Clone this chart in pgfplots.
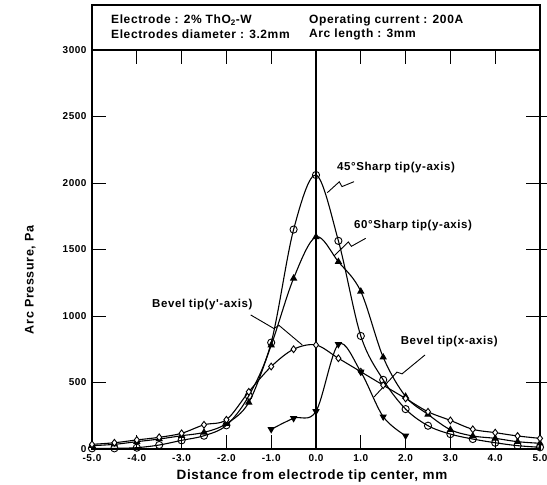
\documentclass[border=0pt]{standalone}
\usepackage{fontspec}
\setmainfont{Liberation Sans}
\newfontfamily\lsfont{Liberation Sans}[LetterSpace=5]
\usepackage{pgfplots}
\pgfplotsset{compat=1.18}
\begin{document}
\begin{tikzpicture}
\useasboundingbox (-92pt,-36pt) rectangle (455pt,449pt);
\begin{axis}[
  at={(0pt,0pt)}, anchor=south west,
  scale only axis, width=448pt, height=399pt,
  xmin=-5, xmax=5, ymin=0, ymax=3000,
  clip=false,
  xtick={-5,-4,...,5},
  xticklabels={-5.0,-4.0,-3.0,-2.0,-1.0,0.0,1.0,2.0,3.0,4.0,5.0},
  ytick={0,500,...,3000},
  yticklabels={0,500,1000,1500,2000,2500,3000},
  tick align=inside,
  major tick length=14pt,
  tick style={line width=1pt, black},
  axis line style={line width=1.1pt},
  /pgf/number format/assume math mode=true,
  ticklabel style={font=\lsfont\fontsize{10}{12}\selectfont\bfseries},
  xticklabel style={yshift=-2pt},
  yticklabel style={xshift=-2pt},
]
% 45 deg sharp tip (y-axis)
\addplot[black, line width=1.1pt, smooth, tension=0.55, mark=o, mark size=3.6pt, mark options={fill=white, line width=0.9pt}] coordinates {
(-5,5) (-4.5,5) (-4,10) (-3.5,30) (-3,65) (-2.5,100) (-2,178) (-1.5,400) (-1,800) (-0.5,1650) (0,2060)
(0.5,1565) (1,850) (1.5,520) (2,300) (2.5,175) (3,112) (3.5,75) (4,47) (4.5,25) (5,13)};
% 60 deg sharp tip (y-axis)
\addplot[black, line width=1.1pt, smooth, tension=0.55, mark=triangle*, mark size=3.2pt, mark options={fill=black}] coordinates {
(-5,25) (-4.5,35) (-4,55) (-3.5,75) (-3,100) (-2.5,125) (-2,190) (-1.5,350) (-1,780) (-0.5,1283) (0,1595)
(0.5,1408) (1,1185) (1.5,690) (2,395) (2.5,260) (3,145) (3.5,98) (4,80) (4.5,55) (5,43)};
% Bevel tip (y'-axis)
\addplot[black, line width=1.1pt, smooth, tension=0.55, mark=diamond*, mark size=3.4pt, mark options={fill=white, line width=0.9pt}] coordinates {
(-5,35) (-4.5,47) (-4,68) (-3.5,88) (-3,118) (-2.5,182) (-2,220) (-1.5,430) (-1,620) (-0.5,750) (0,782)
(0.5,682) (1,581) (1.5,480) (2,380) (2.5,280) (3,215) (3.5,148) (4,123) (4.5,98) (5,80)};
% Bevel tip (x-axis)
\addplot[black, line width=1.1pt, smooth, tension=0.55, mark=triangle*, mark size=3.2pt, mark options={fill=black, rotate=180}] coordinates {
(-1,148) (-0.5,231) (0,283) (0.5,787) (1,580) (1.5,243) (2,100)};
% centre line with crossing ticks
\draw[line width=1.1pt] (axis cs:0,0) -- (axis cs:0,3000);
\pgfplotsinvokeforeach{500,1000,1500,2000,2500}{\draw[line width=1pt] (axis cs:0,#1) ++(-8pt,0) -- ++(16pt,0);}
% header box
\draw[line width=1.1pt] (axis cs:-5,3000) rectangle (axis cs:5,3338);
\node[anchor=west, inner sep=0pt, font=\lsfont\fontsize{12}{14}\selectfont\bfseries] at (axis cs:-4.576,3222) {Electrode : 2\% ThO\textsubscript{2}-W};
\node[anchor=west, inner sep=0pt, font=\lsfont\fontsize{12}{14}\selectfont\bfseries] at (axis cs:-4.576,3115) {Electrodes diameter : 3.2mm};
\node[anchor=west, inner sep=0pt, font=\lsfont\fontsize{12}{14}\selectfont\bfseries] at (axis cs:-0.156,3222) {Operating current : 200A};
\node[anchor=west, inner sep=0pt, font=\lsfont\fontsize{12}{14}\selectfont\bfseries] at (axis cs:-0.156,3115) {Arc length : 3mm};
% annotations
\node[anchor=west, inner sep=0pt, font=\lsfont\fontsize{11.5}{13}\selectfont\bfseries] at (axis cs:0.469,2113) {45°Sharp tip(y-axis)};
\draw[line width=0.9pt] (axis cs:0.848,2010) -- (axis cs:0.580,1973) -- (axis cs:0.520,2009) -- (axis cs:0.252,1927);
\node[anchor=west, inner sep=0pt, font=\lsfont\fontsize{11.5}{13}\selectfont\bfseries] at (axis cs:0.848,1677) {60°Sharp tip(y-axis)};
\draw[line width=0.9pt] (axis cs:1.109,1584) -- (axis cs:0.790,1524) -- (axis cs:0.721,1557) -- (axis cs:0.402,1451);
\node[anchor=west, inner sep=0pt, font=\lsfont\fontsize{11.5}{13}\selectfont\bfseries] at (axis cs:-3.66,1090) {Bevel tip(y'-axis)};
\draw[line width=0.9pt] (axis cs:-1.458,1008) -- (axis cs:-0.940,906) -- (axis cs:-0.824,929) -- (axis cs:-0.306,782);
\node[anchor=west, inner sep=0pt, font=\lsfont\fontsize{11.5}{13}\selectfont\bfseries] at (axis cs:1.89,807) {Bevel tip(x-axis)};
\draw[line width=0.9pt] (axis cs:2.433,707) -- (axis cs:1.921,565) -- (axis cs:1.807,578) -- (axis cs:1.295,391);
% axis labels
\node[font=\lsfont\fontsize{13.5}{16}\selectfont\bfseries] at (axis cs:-0.09,-203) {Distance from electrode tip center, mm};
\node[rotate=90, font=\lsfont\fontsize{12.5}{15}\selectfont\bfseries] at (axis cs:-6.38,1271) {Arc Pressure, Pa};
\end{axis}
\end{tikzpicture}
\end{document}
